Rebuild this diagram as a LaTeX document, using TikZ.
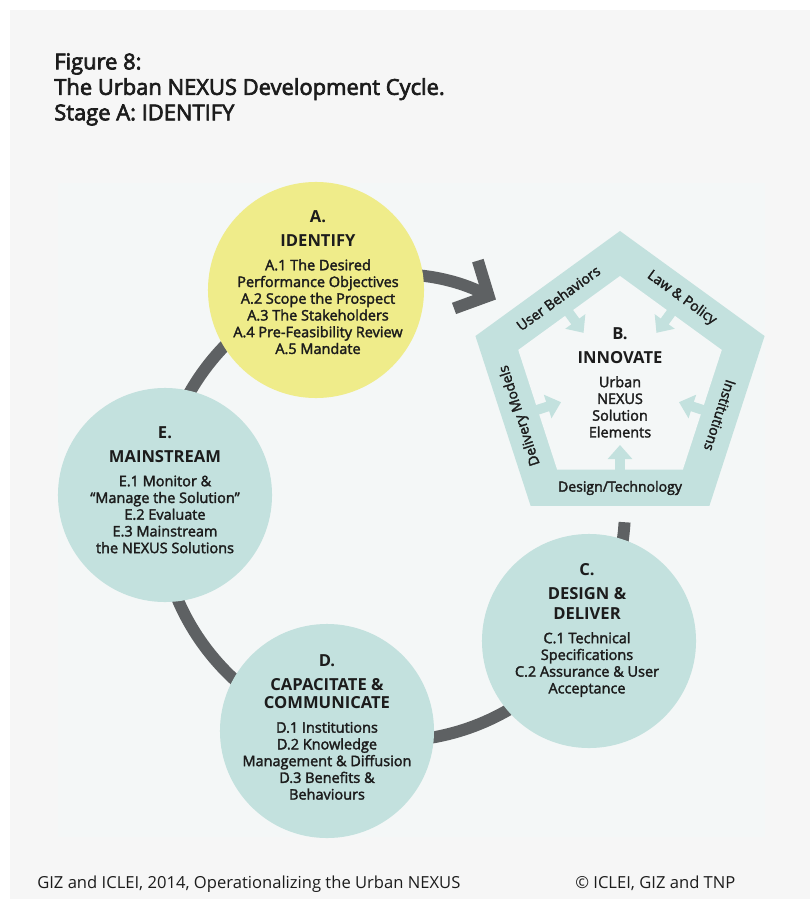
\documentclass[tikz,border=0pt]{standalone}
\usepackage{fontspec}
\setmainfont{Open Sans}
\newfontfamily\semifont[Ligatures=TeX, FakeBold=2.2]{Open Sans}
\newfontfamily\titlefont[Ligatures=TeX, FakeBold=3]{Open Sans}
\usetikzlibrary{arrows.meta, positioning, calc}

\definecolor{pagegrey}{HTML}{F6F6F6}
\definecolor{panelgrey}{HTML}{F4F7F7}
\definecolor{identyellow}{HTML}{EFEC8A}
\definecolor{stageteal}{HTML}{C3E1DE}
\definecolor{cyclegrey}{HTML}{5E6163}
\definecolor{inkgrey}{HTML}{1C1C1C}

\newcommand{\stagehead}[1]{{\normalfont\fontsize{11.8}{14}\selectfont\bfseries #1}}

\begin{document}
\begin{tikzpicture}[x=0.025cm, y=0.025cm,
    stage/.style={circle, minimum size=5.35cm, inner sep=0pt, fill=stageteal},
    stagetext/.style={align=center, anchor=north, inner sep=0pt, text=inkgrey,
        font=\semifont\fontsize{10.3}{11.9}\selectfont},
    bandlabel/.style={inner sep=0pt, text=inkgrey, font=\semifont\fontsize{10}{12}\selectfont},
    ringline/.style={line width=8.5pt, draw=cyclegrey},
    pushin/.style={line width=7pt, draw=stageteal, -{Triangle[length=10pt, width=17pt]}}]

    \useasboundingbox (0,0) rectangle (811,-899);
    \fill[white] (0,0) rectangle (811,-899);
    \fill[pagegrey] (10,-10) rectangle (810,-899);
    \fill[panelgrey] (58,-183) rectangle (765,-837);

    % Title
    \node[anchor=north west, align=left, inner sep=0pt, text=inkgrey,
        font=\titlefont\fontsize{15.6}{18.1}\selectfont] (title) at (54,-53)
        {Figure 8:\\The Urban NEXUS Development Cycle.\\Stage A: IDENTIFY};

    % The cycle
    \coordinate (hub) at (392,-508);
    \draw[ringline, -{Straight Barb[length=18pt, width=38pt]}]
        ($(hub)+(-3.5:233)$) arc[start angle=-3.5, end angle=-296.5, radius=233];

    % Stage B
    \coordinate (innov) at (620,-383);
    \fill[stageteal, shift={(innov)}] (90:152) -- (162:152) -- (234:152) -- (306:152) -- (18:152) -- cycle;
    \fill[panelgrey, shift={(innov)}] (90:107) -- (162:107) -- (234:107) -- (306:107) -- (18:107) -- cycle;
    \foreach \ang in {126,54,342,270,198} {
        \draw[pushin] ($(innov)+(\ang:95)$) -- ($(innov)+(\ang:62)$);
    }
    \foreach \ang/\rot/\txt in {126/36/User Behaviors, 54/-36/Law \& Policy, 342/-108/Institutions,
        270/0/{Design/Technology}, 198/108/Delivery Models} {
        \node[bandlabel, rotate=\rot] (band\ang) at ($(innov)+(\ang:105)$) {\txt};
    }
    \node[stagetext] (innovtext) at (620,-327)
        {\stagehead{B.}\\[5.2pt]\stagehead{INNOVATE}\\[5.2pt]Urban\\NEXUS\\Solution\\Elements};

    % Stage A
    \node[stage, fill=identyellow, minimum size=5.4cm] (identify) at (316,-290) {};
    \node[stagetext] (identifytext) at (318,-210)
        {\stagehead{A.}\\[5.2pt]\stagehead{IDENTIFY}\\[5.2pt]A.1 The Desired\\Performance Objectives\\
        A.2 Scope the Prospect\\A.3 The Stakeholders\\A.4 Pre-Feasibility Review\\A.5 Mandate};

    % Stage C
    \node[stage] (deliver) at (589,-641) {};
    \node[stagetext] (delivertext) at (587,-563)
        {\stagehead{C.}\\[5.2pt]\stagehead{DESIGN \&}\\[2.2pt]\stagehead{DELIVER}\\[5.2pt]C.1 Technical\\
        Specifications\\C.2 Assurance \& User\\Acceptance};

    % Stage D
    \node[stage] (capacitate) at (327,-731) {};
    \node[stagetext] (capacitatetext) at (327,-654)
        {\stagehead{D.}\\[5.2pt]\stagehead{CAPACITATE \&}\\[1.2pt]\stagehead{COMMUNICATE}\\[5.2pt]D.1 Institutions\\
        D.2 Knowledge\\Management \& Diffusion\\D.3 Benefits \&\\Behaviours};

    % Stage E
    \node[stage] (mainstream) at (165,-495) {};
    \node[stagetext] (mainstreamtext) at (165,-426)
        {\stagehead{E.}\\[5.2pt]\stagehead{MAINSTREAM}\\[5.2pt]E.1 Monitor \&\\``Manage the Solution''\\
        E.2 Evaluate\\E.3 Mainstream\\the NEXUS Solutions};

    % Footer
    \node[anchor=base west, inner sep=0pt, text=inkgrey, font=\fontsize{11.8}{14}\selectfont] (source) at (37,-888)
        {GIZ and ICLEI, 2014, Operationalizing the Urban NEXUS};
    \node[anchor=base west, inner sep=0pt, text=inkgrey, font=\fontsize{11.8}{14}\selectfont] (rights) at (575,-888)
        {© ICLEI, GIZ and TNP};
\end{tikzpicture}
\end{document}
